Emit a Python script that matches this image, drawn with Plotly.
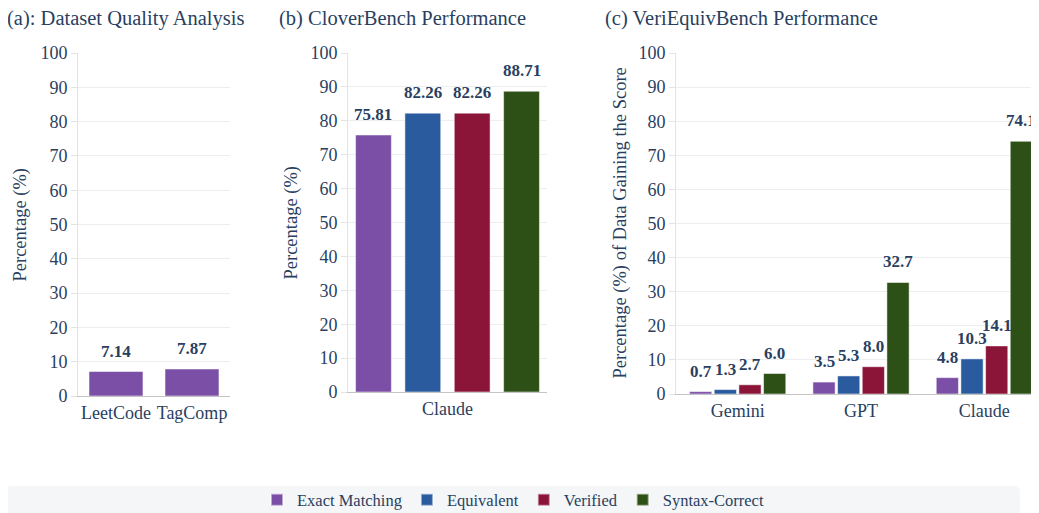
import plotly.graph_objects as go

# ---------------- data ----------------
series_names = ["Exact Matching", "Equivalent", "Verified", "Syntax-Correct"]
series_colors = ["#7b4fa6", "#2a5b9e", "#8b1538", "#2d5016"]

quality_categories = ["LeetCode", "TagComp"]
quality_values = [7.14, 7.87]

clover_categories = ["Claude"]
clover_values = [75.81, 82.26, 82.26, 88.71]  # one per series

veri_categories = ["Gemini", "GPT", "Claude"]
veri_exact = [0.7, 3.5, 4.8]
veri_equiv = [1.3, 5.3, 10.3]
veri_verified = [2.7, 8.0, 14.1]
veri_syntax = [6.0, 32.7, 74.1]
veri_values = [veri_exact, veri_equiv, veri_verified, veri_syntax]

y_ticks = list(range(0, 101, 10))

# ---------------- style ----------------
FONT = "Liberation Serif"
TXT = "#2a3f5f"
OFF = 8                      # page body margin
W, H = 1039 - OFF, 513 - OFF

def fx(p):
    return (p - OFF) / W

def fy(p):
    return 1 - (p - OFF) / H

fig = go.Figure()

bar_line = dict(color="rgba(255,255,255,0.5)", width=1)

# (a)
fig.add_trace(go.Bar(
    x=quality_categories, y=quality_values, xaxis="x", yaxis="y",
    marker=dict(color=series_colors[0], line=bar_line),
    width=0.71, showlegend=False,
))

# (b)
b_offsets = [-0.372, -0.124, 0.124, 0.372]
b_width = 0.18
for i, name in enumerate(series_names):
    fig.add_trace(go.Bar(
        x=clover_categories, y=[clover_values[i]], xaxis="x2", yaxis="y2",
        name=name, legendgroup=name,
        marker=dict(color=series_colors[i], line=bar_line),
        width=b_width, offset=b_offsets[i] - b_width / 2, showlegend=True,
    ))

# (c)
c_offsets = [-0.3, -0.1, 0.1, 0.3]
c_width = 0.18
for i, name in enumerate(series_names):
    fig.add_trace(go.Bar(
        x=veri_categories, y=veri_values[i], xaxis="x3", yaxis="y3",
        name=name, legendgroup=name,
        marker=dict(color=series_colors[i], line=bar_line),
        width=c_width, offset=c_offsets[i] - c_width / 2, showlegend=False,
    ))

annotations = []
lab_font = dict(family=FONT, size=17, color=TXT)
for j, v in enumerate(quality_values):
    annotations.append(dict(x=j, y=v, xref="x", yref="y", text=f"<b>{v:.2f}</b>",
                            showarrow=False, yanchor="bottom", yshift=9, font=lab_font))
for i, v in enumerate(clover_values):
    annotations.append(dict(x=0 + b_offsets[i], y=v, xref="x2", yref="y2", text=f"<b>{v:.2f}</b>",
                            showarrow=False, yanchor="bottom", yshift=9, font=lab_font))
for i in range(4):
    for j, v in enumerate(veri_values[i]):
        annotations.append(dict(x=j + c_offsets[i], y=v, xref="x3", yref="y3", text=f"<b>{v:.1f}</b>",
                                showarrow=False, yanchor="bottom", yshift=9, font=lab_font))

title_font = dict(family=FONT, size=20.5, color=TXT)
for txt, xp in [("(a): Dataset Quality Analysis", 5),
                ("(b) CloverBench Performance", 277),
                ("(c) VeriEquivBench Performance", 603)]:
    annotations.append(dict(x=fx(xp), y=fy(18), xref="paper", yref="paper", text=txt,
                            showarrow=False, xanchor="left", yanchor="middle", font=title_font))

# y-axis titles
ytitle_font = dict(family=FONT, size=18.5, color=TXT)
for txt, xp, yb in [("Percentage (%)", 20, 396),
                    ("Percentage (%)", 291, 392),
                    ("Percentage (%) of Data Gaining the Score", 620, 394)]:
    annotations.append(dict(x=fx(xp), y=(fy(yb) + fy(53)) / 2, xref="paper", yref="paper", text=txt,
                            textangle=-90, showarrow=False, xanchor="center", yanchor="middle",
                            font=ytitle_font))

def yaxis(domain_bottom, anchor):
    return dict(domain=[fy(domain_bottom), fy(53)], range=[0, 100], tickvals=y_ticks,
                anchor=anchor, showgrid=True, gridcolor="#eeeeee", gridwidth=1,
                showline=True, linecolor="#e3e3e3", linewidth=1,
                ticks="outside", ticklen=6, tickcolor="#e3e3e3",
                zeroline=False, tickfont=dict(family=FONT, size=18, color=TXT),
                automargin=False, fixedrange=True)

def xaxis(domain, anchor, rng=None):
    d = dict(domain=domain, anchor=anchor, type="category", showgrid=False,
             showline=True, linecolor="#c4c4c4", linewidth=1, ticks="",
             tickfont=dict(family=FONT, size=18, color=TXT), automargin=False, fixedrange=True)
    if rng is not None:
        d["range"] = rng
    return d

fig.update_layout(
    width=W, height=H, autosize=False,
    margin=dict(l=0, r=0, t=0, b=0, pad=0, autoexpand=False),
    paper_bgcolor="white", plot_bgcolor="white",
    barmode="overlay",
    font=dict(family=FONT, color=TXT),
    xaxis=xaxis([fx(78), fx(230)], "y"),
    yaxis=yaxis(396, "x"),
    xaxis2=xaxis([fx(348), fx(547)], "y2"),
    yaxis2=yaxis(392, "x2"),
    xaxis3=xaxis([fx(676), 1.0], "y3", rng=[-0.5, 2.443]),
    yaxis3=yaxis(394, "x3"),
    annotations=annotations,
    legend=dict(orientation="h", x=fx(513), xanchor="center", y=fy(500), yanchor="middle",
                bgcolor="rgba(0,0,0,0)", font=dict(family=FONT, size=16.5, color=TXT),
                itemsizing="constant"),
    shapes=[dict(type="path", xref="paper", yref="paper", layer="below",
                 path=f"M {fx(5)},{fy(513)} L {fx(5)},{fy(492)} Q {fx(5)},{fy(486)} {fx(11)},{fy(486)} "
                      f"L {fx(1014)},{fy(486)} Q {fx(1020)},{fy(486)} {fx(1020)},{fy(492)} L {fx(1020)},{fy(513)} Z",
                 fillcolor="#f4f6f8", line=dict(width=0))],
)

fig.write_html("out.html")
